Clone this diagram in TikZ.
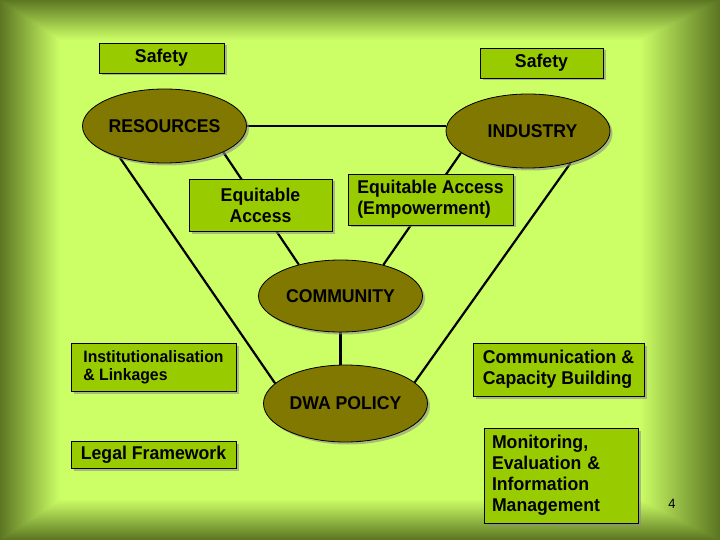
\documentclass[tikz,border=0pt]{standalone}
\usepackage{fontspec}
\setmainfont{Liberation Sans}[FakeStretch=0.955]
\usetikzlibrary{shapes.geometric,shadows}
\pgfdeclarelayer{bg}
\pgfdeclarelayer{edges}
\pgfsetlayers{bg,edges,main}
\definecolor{bgout}{RGB}{92,118,34}
\definecolor{bgin}{RGB}{204,255,102}
\definecolor{olivefill}{RGB}{128,120,0}
\definecolor{boxfill}{RGB}{153,204,0}
\begin{document}
\begin{tikzpicture}[x=1pt, y=-1pt, font=\fontsize{18.5}{21}\selectfont\bfseries,
	shade/.style={drop shadow={shadow xshift=2.5pt, shadow yshift=-2.5pt, fill=black!45, opacity=0.6}},
	pill/.style={ellipse, draw=black, line width=0.8pt, fill=olivefill, inner sep=0pt, minimum width=164pt, minimum height=74pt, shade},
	tag/.style={rectangle, draw=black, line width=0.8pt, fill=boxfill, inner sep=0pt, shade},
	link/.style={line width=2.2pt}]
	\useasboundingbox (0,0) rectangle (720,540);
	
	% Background
	\begin{pgfonlayer}{bg}
		\foreach \i in {0,...,60}{
			\pgfmathsetmacro\p{100*\i/60}
			\fill[bgin!\p!bgout] (\i,0.67*\i) rectangle (720-1.33*\i,540-0.67*\i);
		}
	\end{pgfonlayer}
	
	% Ellipses
	\node[pill] (res) at (164.5,126) {RESOURCES};
	\node[pill] (ind) at (528,131) {\hspace{9pt}INDUSTRY};
	\node[pill, minimum height=72pt] (com) at (340.5,296) {COMMUNITY};
	\node[pill, minimum height=77pt] (dwa) at (345.5,403.5) {DWA POLICY};
	
	% Boxes
	\node[tag, minimum width=125pt, minimum height=30pt] (safeL) at (161.5,58) {Safety};
	\node[tag, minimum width=123pt, minimum height=30pt] (safeR) at (541.5,63) {Safety};
	\node[tag, minimum width=143pt, minimum height=52pt, align=center] (eqacc) at (260.5,205) {Equitable\\Access};
	\node[tag, minimum width=165pt, minimum height=51pt, align=left] (eqemp) at (430.5,199.5) {Equitable Access\\(Empowerment)};
	\node[tag, minimum width=165pt, minimum height=48pt, align=left, font=\fontsize{16.5}{18}\selectfont\bfseries] (inst) at (153.5,367) {Institutionalisation\\\& Linkages};
	\node[tag, minimum width=165pt, minimum height=27pt] (legal) at (153.5,454.5) {Legal Framework};
	\node[tag, minimum width=171pt, minimum height=53pt, align=left] (comm) at (558.5,369.5) {Communication \&\\Capacity Building};
	\node[tag, minimum width=154pt, minimum height=95pt, text width=138pt, align=left] (mon) at (561,475.5) {Monitoring,\\Evaluation \&\\Information\\Management};
	
	% Page number
	\node[font=\fontsize{13.5}{15}\selectfont] (pnum) at (672,503.5) {4};
	
	% Links
	\begin{pgfonlayer}{edges}
		\draw[link] (res.east) -- (ind.west |- res.east);
		\draw[link] (res.336.7) -- (com.143.7);
		\draw[link] (ind.198.7) -- (com.36.3);
		\draw[link] (res.215.6) -- (dwa.164);
		\draw[link] (ind.323.3) -- (dwa.17.4);
		\draw[link] (com.south) -- (com.south |- dwa.north);
	\end{pgfonlayer}
\end{tikzpicture}
\end{document}
